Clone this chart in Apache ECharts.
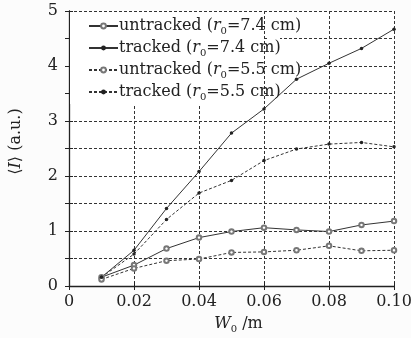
<!DOCTYPE html>
<html><head><meta charset="utf-8">
<style>html,body{margin:0;padding:0;background:#fcfcfc;}#c{width:411px;height:338px;}</style>
<script src="https://cdn.jsdelivr.net/npm/echarts@6/dist/echarts.min.js"></script>
</head><body><div id="c"></div>
<script>
const xValues = [0.01,0.02,0.03,0.04,0.05,0.06,0.07,0.08,0.09,0.10];
const untracked74 = [0.16,0.38,0.68,0.88,0.99,1.06,1.02,0.99,1.11,1.18];
const tracked74   = [0.16,0.65,1.41,2.08,2.78,3.22,3.76,4.05,4.32,4.67];
const untracked55 = [0.12,0.32,0.46,0.49,0.61,0.62,0.65,0.73,0.64,0.65];
const tracked55   = [0.16,0.58,1.21,1.69,1.92,2.28,2.49,2.58,2.61,2.53];
const seriesNames = ['untracked (r0=7.4 cm)','tracked (r0=7.4 cm)','untracked (r0=5.5 cm)','tracked (r0=5.5 cm)'];
const legendRich = ['untracked ({i|r}{s|0}=7.4 cm)','tracked ({i|r}{s|0}=7.4 cm)','untracked ({i|r}{s|0}=5.5 cm)','tracked ({i|r}{s|0}=5.5 cm)'];
const xTickLabels = ['0','0.02','0.04','0.06','0.08','0.10'];
const yTickLabels = ['0','1','2','3','4','5'];

const FONT = 'DejaVu Serif';
const INK = '#222';
function pairs(ys){ return xValues.map((x,i)=>[x,ys[i]]); }
const lineStyles = [
  {type:'solid', sym:'emptyCircle', size:4.5},
  {type:'solid', sym:'circle', size:3.5},
  {type:'dashed', sym:'emptyCircle', size:4.5},
  {type:'dashed', sym:'circle', size:3.5}
];
const dataSets = [untracked74, tracked74, untracked55, tracked55];
const series = dataSets.map((d,k)=>({
  name: seriesNames[k], type:'line', data: pairs(d),
  symbol: lineStyles[k].sym, symbolSize: lineStyles[k].size,
  lineStyle:{color:'#333', width:1, type: lineStyles[k].type==='dashed'?[3,2]:'solid'},
  itemStyle:{color: k%2===0 ? '#777' : '#222'},
  emphasis:{disabled:true}, animation:false
}));
const subStyle = {fontSize:10, fontFamily:FONT, color:INK, lineHeight:12, verticalAlign:'bottom', padding:[14,0,0,0]};
const itStyle = {fontStyle:'italic', fontFamily:FONT, fontSize:16, lineHeight:20, color:INK};

const chart = echarts.init(document.getElementById('c'), null, {renderer:'canvas'});
const split = {show:true, lineStyle:{color:'#333', width:1, type:[3,2]}};
chart.setOption({
  animation:false,
  grid:{left:69, right:17, top:11, bottom:52, show:true, backgroundColor:'#fff', borderWidth:0, outerBoundsMode:'none', containLabel:false},
  xAxis:[{
    type:'value', min:0, max:0.1, interval:0.02,
    axisLine:{show:true, lineStyle:{color:INK, width:1.3}},
    axisTick:{show:true, inside:true, length:4, lineStyle:{color:INK}},
    splitLine: split,
    axisLabel:{color:INK, fontFamily:FONT, fontSize:16, margin:8,
      formatter:(v)=>xTickLabels[Math.round(v/0.02)]},
    name:'{i|W}{s|0} /m', nameLocation:'middle', nameGap:28, nameMoveOverlap:false,
    nameTextStyle:{color:INK, fontFamily:FONT, fontSize:16, lineHeight:20, padding:[0,0,0,14],
      rich:{i:itStyle, s:subStyle}}
  },{
    type:'value', position:'top', min:0, max:0.1, interval:0.02,
    axisLine:{show:true, lineStyle:{color:INK, width:1}},
    axisTick:{show:true, inside:true, length:4, lineStyle:{color:INK}},
    axisLabel:{show:false}, splitLine:{show:false}
  }],
  yAxis:[{
    type:'value', min:0, max:5, interval:0.5,
    axisLine:{show:true, lineStyle:{color:INK, width:1.3}},
    axisTick:{show:true, inside:true, length:4, lineStyle:{color:INK}},
    splitLine: split,
    axisLabel:{color:INK, fontFamily:FONT, fontSize:16, margin:11,
      formatter:(v)=> Math.abs(v-Math.round(v))<1e-6 ? yTickLabels[Math.round(v)] : ''},
    name:'⟨{i|I}⟩ (a.u.)', nameLocation:'middle', nameGap:45, nameRotate:90, nameMoveOverlap:false,
    nameTextStyle:{color:INK, fontFamily:FONT, fontSize:16, padding:[0,0,0,14],
      rich:{i:{fontStyle:'italic', fontFamily:FONT, fontSize:16, color:INK}}}
  },{
    type:'value', position:'right', min:0, max:5, interval:0.5,
    axisLine:{show:true, lineStyle:{color:INK, width:1}},
    axisTick:{show:true, inside:true, length:4, lineStyle:{color:INK}},
    axisLabel:{show:false}, splitLine:{show:false}
  }],
  legend:{
    left:83, top:7, orient:'vertical', itemWidth:29, itemHeight:6, itemGap:-2,
    data: seriesNames,
    formatter:(n)=>legendRich[seriesNames.indexOf(n)],
    textStyle:{color:INK, fontFamily:FONT, fontSize:16, lineHeight:20, padding:[0,0,0,-4],
      rich:{i:itStyle, s:subStyle}}
  },
  graphic:[
    {type:'rect', z:1, shape:{x:70, y:12, width:192, height:92}, style:{fill:'#fff'}},
    {type:'rect', z:1, shape:{x:267, y:34, width:13, height:6}, style:{fill:'#fff'}},
    {type:'rect', z:1, shape:{x:267, y:62, width:33, height:6}, style:{fill:'#fff'}},
    {type:'rect', z:1, shape:{x:267, y:90, width:15, height:6}, style:{fill:'#fff'}}
  ],
  series: series
});
</script></body></html>
